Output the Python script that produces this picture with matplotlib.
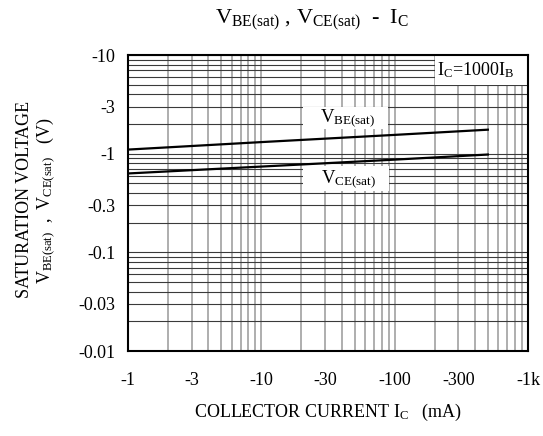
import matplotlib
matplotlib.use("Agg")
import matplotlib.pyplot as plt
from matplotlib.patches import Rectangle
from matplotlib.ticker import FixedLocator, NullFormatter

plt.rcParams["font.family"] = ["Liberation Serif", "DejaVu Serif"]
plt.rcParams["mathtext.fontset"] = "custom"
plt.rcParams["mathtext.rm"] = "Liberation Serif"
plt.rcParams["mathtext.it"] = "Liberation Serif"

# data (magnitudes; axis labels carry the minus sign)
ic = [1, 10, 100, 500]
vbe_sat = [1.10, 1.31, 1.55, 1.75]
vce_sat = [0.63, 0.74, 0.87, 0.98]

x_ticks = [1, 3, 10, 30, 100, 300, 1000]
x_labels = ["-1", "-3", "-10", "-30", "-100", "-300", "-1k"]
y_ticks = [0.01, 0.03, 0.1, 0.3, 1, 3, 10]
y_labels = ["-0.01", "-0.03", "-0.1", "-0.3", "-1", "-3", "-10"]

fig = plt.figure(figsize=(5.43, 4.36), dpi=100)
ax = fig.add_axes([128 / 543, 85 / 436, 400 / 543, 296 / 436])

ax.set_xscale("log")
ax.set_yscale("log")
ax.set_xlim(1, 1000)
ax.set_ylim(0.01, 10)

# log grid: light gray verticals, dark horizontals
minor = [m * 10 ** d for d in range(-3, 4) for m in range(1, 10)]
ax.xaxis.set_minor_locator(FixedLocator(minor))
ax.yaxis.set_minor_locator(FixedLocator(minor))
ax.xaxis.set_minor_formatter(NullFormatter())
ax.yaxis.set_minor_formatter(NullFormatter())
ax.grid(True, axis="x", which="both", color="#a8a8a8", linewidth=1.3)
ax.grid(True, axis="y", which="both", color="#3a3a3a", linewidth=0.8)

ax.set_xticks(x_ticks)
ax.set_xticklabels(x_labels)
ax.set_yticks(y_ticks)
ax.set_yticklabels(y_labels)
ax.tick_params(which="both", length=0, labelsize=13)
ax.tick_params(axis="x", pad=15)
ax.tick_params(axis="y", pad=9)

for s in ax.spines.values():
    s.set_linewidth(1.5)
    s.set_color("black")
    s.set_zorder(10)

ax.plot(ic, vbe_sat, color="black", linewidth=1.6, zorder=5)
ax.plot(ic, vce_sat, color="black", linewidth=1.6, zorder=5)

# white patches behind the labels
ax.add_patch(Rectangle((20.5, 1.78), 89 - 20.5, 2.95 - 1.78,
                       facecolor="white", edgecolor="none", zorder=4))
ax.add_patch(Rectangle((20.5, 0.42), 90 - 20.5, 0.75 - 0.42,
                       facecolor="white", edgecolor="none", zorder=4))
ax.add_patch(Rectangle((0.7675, 0.9), 0.2325, 0.1, transform=ax.transAxes,
                       facecolor="white", edgecolor="none", zorder=4))

ax.text(44, 2.3, r"$\mathregular{V_{BE(sat)}}$", fontsize=13.5, ha="center",
        va="center", zorder=6)
ax.text(45, 0.55, r"$\mathregular{V_{CE(sat)}}$", fontsize=13.5, ha="center",
        va="center", zorder=6)
ax.text(0.87, 0.95, r"$\mathregular{I_C}$=1000$\mathregular{I_B}$",
        transform=ax.transAxes, fontsize=13, ha="center", va="center",
        zorder=6)

fig.text(312 / 543, 1 - 20 / 436,
         r"$\mathregular{V_{BE(sat)}}$ , $\mathregular{V_{CE(sat)}}$  -  $\mathregular{I_C}$",
         fontsize=16, ha="center", va="center")
fig.text(328 / 543, 1 - 412 / 436,
         r"COLLECTOR CURRENT $\mathregular{I_C}$   (mA)",
         fontsize=13, ha="center", va="center")
fig.text(25 / 543, 1 - 199 / 436, "SATURATION VOLTAGE",
         fontsize=13, ha="center", va="center", rotation=90)
fig.text(46 / 543, 1 - 201 / 436,
         r"$\mathregular{V_{BE(sat)}}$  ,  $\mathregular{V_{CE(sat)}}$   (V)",
         fontsize=13, ha="center", va="center", rotation=90)

fig.savefig("out.png", dpi=100)
